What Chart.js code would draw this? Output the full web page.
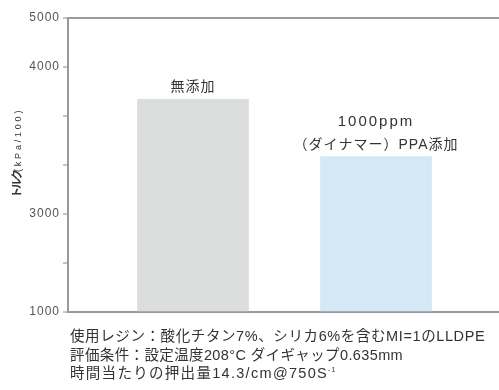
<!DOCTYPE html>
<html>
<head>
<meta charset="utf-8">
<script src="https://cdn.jsdelivr.net/npm/chart.js@4/dist/chart.umd.min.js"></script>
<style>
  html, body { margin: 0; padding: 0; background: #fff; }
  #wrap { position: relative; width: 499px; height: 390px; }
  #chart { position: absolute; left: 0; top: 0; }
  #notes {
    position: absolute; left: 70px; top: 327px;
    font-family: "Liberation Sans", "Noto Sans CJK JP", sans-serif;
    font-size: 14.5px; line-height: 18.5px; color: #333; white-space: nowrap;
  }
  #notes .l1 { letter-spacing: 0.6px; }
  #notes .l2 { letter-spacing: 0.38px; }
  #notes .l3 { letter-spacing: 1.3px; }
  #notes sup { font-size: 7px; vertical-align: 6px; line-height: 0; }
</style>
</head>
<body>
<div id="wrap">
  <canvas id="chart" width="499" height="390"></canvas>
  <div id="notes">
    <div class="l1">使用レジン：酸化チタン7%、シリカ6%を含むMI=1のLLDPE</div>
    <div class="l2">評価条件：設定温度208°C ダイギャップ0.635mm</div>
    <div class="l3">時間当たりの押出量14.3/cm@750S<sup>-1</sup></div>
  </div>
</div>
<script>
// Bars: torque for each resin condition
const categories = [['無添加'], ['1000ppm', '（ダイナマー）PPA添加']];
const torque = [3780, 3390];

// Torque axis: tick values sit at evenly spaced marks, only some are labelled
const tickValues = [1000, 2000, 3000, 3333.3, 3666.7, 4000, 5000];
const tickLabels = ['1000', '', '3000', '', '', '4000', '5000'];

const barColors = ['#dcdddd', '#d4e8f5'];

// convert a torque value into its position along the tick marks
function axisPos(v) {
  for (let i = 0; i < tickValues.length - 1; i++) {
    const a = tickValues[i], b = tickValues[i + 1];
    if (v <= b || i === tickValues.length - 2) {
      return i + (v - a) / (b - a);
    }
  }
  return 0;
}

const FONT = '"Liberation Sans", "Noto Sans CJK JP", sans-serif';

// wider letter spacing for the axis numbers
const spacing = {
  id: 'spacing',
  beforeDraw(chart) { chart.ctx.letterSpacing = '1px'; },
  afterDraw(chart) { chart.ctx.letterSpacing = '0px'; }
};

const barLabels = {
  id: 'barLabels',
  afterDatasetsDraw(chart) {
    const ctx = chart.ctx;
    const meta = chart.getDatasetMeta(0);
    ctx.save();
    ctx.fillStyle = '#333';
    ctx.textAlign = 'center';
    ctx.textBaseline = 'middle';
    meta.data.forEach((bar, i) => {
      const lines = categories[i];
      const n = lines.length;
      lines.forEach((t, j) => {
        if (/^[0-9a-z]+$/.test(t)) {
          ctx.font = '15px ' + FONT;
          ctx.letterSpacing = '2px';
        } else {
          ctx.font = '14px ' + FONT;
          ctx.letterSpacing = '1px';
        }
        ctx.fillText(t, bar.x, bar.y - 12 - (n - 1 - j) * 23);
      });
    });
    ctx.letterSpacing = '0px';
    ctx.restore();
  }
};

const axisTitle = {
  id: 'axisTitle',
  afterDraw(chart) {
    const ctx = chart.ctx;
    ctx.save();
    ctx.translate(18, 198);
    ctx.rotate(-Math.PI / 2);
    ctx.fillStyle = '#333';
    ctx.textBaseline = 'middle';
    ctx.textAlign = 'left';
    ctx.font = 'bold 11px ' + FONT;
    ctx.letterSpacing = '-2px';
    ctx.fillText('トルク', 0, 0);
    ctx.font = '9px ' + FONT;
    ctx.letterSpacing = '2.8px';
    ctx.fillText('(kPa/100)', 26, 1);
    ctx.letterSpacing = '0px';
    ctx.restore();
  }
};

new Chart(document.getElementById('chart'), {
  type: 'bar',
  data: {
    datasets: [{
      data: torque.map((v, i) => ({ x: i, y: axisPos(v) })),
      backgroundColor: barColors,
      borderWidth: 0,
      barThickness: 111
    }]
  },
  options: {
    responsive: false,
    animation: false,
    layout: { padding: { left: 0, right: 0, top: 18, bottom: 78 } },
    plugins: { legend: { display: false }, tooltip: { enabled: false } },
    scales: {
      x: {
        type: 'linear',
        display: false,
        offset: false,
        min: -0.683,
        max: 1.672
      },
      y: {
        min: 0,
        max: tickValues.length - 1,
        afterFit(scale) { scale.width = 68; },
        afterBuildTicks(scale) {
          scale.ticks = tickValues.map((_, i) => ({ value: i }));
        },
        ticks: {
          callback: (v, i) => tickLabels[i],
          color: '#555',
          font: { family: FONT, size: 12 },
          padding: 3
        },
        border: { display: true, color: '#999', width: 2 },
        grid: {
          color: c => (c.index === 0 || c.index === tickValues.length - 1) ? '#9a9a9a' : 'rgba(0,0,0,0)',
          lineWidth: 2,
          tickColor: '#888',
          tickWidth: 1,
          tickLength: 5
        }
      }
    }
  },
  plugins: [spacing, barLabels, axisTitle]
});
</script>
</body>
</html>
